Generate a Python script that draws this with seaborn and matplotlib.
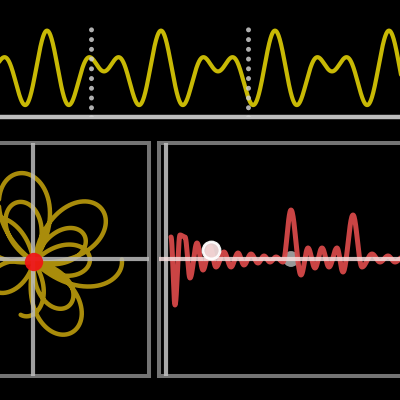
import numpy as np
import pandas as pd
import matplotlib
matplotlib.use("Agg")
import matplotlib.pyplot as plt
import seaborn as sns

# ---------------- data ----------------
# top panel: wave built from two sinusoids (period in px, amplitude in px)
wave_periods = [57.0, 38.0]
wave_amps = [20.6, 20.4]
wave_level = -71.6
wave_peak_x = 47.0
marker_lines_x = [90.7, 248.3]

# bottom-left panel: flower petals (direction in degrees, length in px)
petal_angles = [-100, 143, 38, -62, 106, 3, -150, 100, 28, -52, 0]
petal_lengths = [55, 65, 86, 80, 62, 56, 50, 90, 57, 56, 88]
petal_start = [0.45, 0, 0, 0, 0, 0, 0, 0, 0, 0, 0]
petal_end = [1, 1, 1, 1, 1, 1, 1, 1, 1, 1, 0.52]
flower_center = (1.0, -3.0)

# bottom-right panel: turning points of the red signal (px x, px y)
signal_x = [171, 175, 180, 185, 190, 197, 203, 210, 216, 224, 231, 238, 244,
            251, 258, 264, 270, 276, 283, 291, 301, 308, 315, 322, 329, 337,
            343, 353, 362, 372, 380, 388, 395, 403, 410]
signal_py = [237, 305, 235, 237, 278, 243, 270, 247, 267, 252, 267, 253, 265,
             254, 263, 256, 262, 257, 262, 210, 275, 248, 268, 248, 267, 248,
             272, 215, 267, 254, 262, 256, 262, 257, 261]
ring_marker = (211, 250)
gray_marker = (291, 259)

# ---------------- style ----------------
sns.set_theme(style="dark")
plt.rcParams["lines.scale_dashes"] = False
plt.rcParams["font.family"] = ["DejaVu Sans"]

W = H = 400
fig = plt.figure(figsize=(4, 4), dpi=100, facecolor="black")


def px_axes(x0, y0, x1, y1):
    ax = fig.add_axes([x0 / W, 1 - y1 / H, (x1 - x0) / W, (y1 - y0) / H])
    ax.set_facecolor("black")
    ax.set_xticks([])
    ax.set_yticks([])
    ax.grid(False)
    return ax


SPINE = "#747474"
LIGHT = "#bdbdbd"

# ---------------- top panel ----------------
ax_top = px_axes(-10, -5, 410, 116.8)
xs = np.linspace(-10, 410, 2000)
ys = np.full_like(xs, wave_level)
for p, a in zip(wave_periods, wave_amps):
    ys = ys + a * np.cos(2 * np.pi * (xs - wave_peak_x) / p)
sns.lineplot(x=xs, y=ys, sort=False, estimator=None, ax=ax_top,
             color="#c8b905", lw=3.0, zorder=2)
for mx in marker_lines_x:
    ax_top.axvline(mx, ymin=0, ymax=(116.8 - 29.3 + 1.5) / 121.8,
                   color="#cfcfcf", alpha=0.85, lw=3.6,
                   linestyle=(0, (0.001, 7.01)), dash_capstyle="round",
                   zorder=3)
ax_top.set_xlim(-10, 410)
ax_top.set_ylim(-116.8, 5)
for s in ["top", "left", "right"]:
    ax_top.spines[s].set_visible(False)
ax_top.spines["bottom"].set_color(LIGHT)
ax_top.spines["bottom"].set_linewidth(3.2)

# ---------------- bottom-left panel ----------------
ax_l = px_axes(-60, 143, 149, 376)
fx, fy = [], []
w = np.deg2rad(84)
for a, L, s0, s1 in zip(petal_angles, petal_lengths, petal_start, petal_end):
    s = np.linspace(s0, s1, 120)
    th = np.deg2rad(a) + w * (s - 0.5)
    r = L * np.sin(np.pi * s) ** 0.8
    fx.extend(flower_center[0] + r * np.cos(th))
    fy.extend(flower_center[1] + r * np.sin(th))
sns.lineplot(x=fx, y=fy, sort=False, estimator=None, ax=ax_l,
             color="#b9990c", alpha=0.92, lw=3.2, zorder=2)
ax_l.axvline(0, color=LIGHT, alpha=0.85, lw=3.0, zorder=3)
ax_l.axhline(0, color=LIGHT, alpha=0.85, lw=3.0, zorder=3)
sns.scatterplot(x=[flower_center[0]], y=[flower_center[1]], ax=ax_l,
                s=175, color="#f01414", alpha=0.93, edgecolor="none",
                zorder=4)
ax_l.set_xlim(-93, 116)
ax_l.set_ylim(-117, 116)
ax_l.spines["left"].set_visible(False)
for s in ["top", "right", "bottom"]:
    ax_l.spines[s].set_color(SPINE)
    ax_l.spines[s].set_linewidth(2.9)

# ---------------- bottom-right panel ----------------
ax_r = px_axes(158.7, 143, 420, 376)
sig_y = [259 - v for v in signal_py]
rx, ry = [], []
for i in range(len(signal_x) - 1):
    s = np.linspace(0, 1, 25)
    rx.extend(signal_x[i] + (signal_x[i + 1] - signal_x[i]) * s)
    ry.extend(sig_y[i] + (sig_y[i + 1] - sig_y[i]) * (1 - np.cos(np.pi * s)) / 2)
sns.scatterplot(x=[gray_marker[0]], y=[259 - gray_marker[1]], ax=ax_r,
                s=130, color="#b4b4b4", alpha=0.85, edgecolor="none",
                zorder=1)
sns.lineplot(x=rx, y=ry, sort=False, estimator=None, ax=ax_r,
             color="#d64848", alpha=0.95, lw=3.6, zorder=2)
ax_r.axvline(166, color=LIGHT, alpha=0.9, lw=3.0, zorder=3)
ax_r.axhline(0, color="#f6dede", alpha=0.85, lw=3.0, zorder=3)
sns.scatterplot(x=[ring_marker[0]], y=[259 - ring_marker[1]], ax=ax_r,
                s=150, color="#f2dada", alpha=0.95, edgecolor="white",
                linewidth=2.0, zorder=4)
ax_r.set_xlim(158.7, 420)
ax_r.set_ylim(-117, 116)
ax_r.spines["right"].set_visible(False)
for s in ["top", "left", "bottom"]:
    ax_r.spines[s].set_color(SPINE)
    ax_r.spines[s].set_linewidth(2.9)

fig.savefig("out.png", dpi=100, facecolor="black")
